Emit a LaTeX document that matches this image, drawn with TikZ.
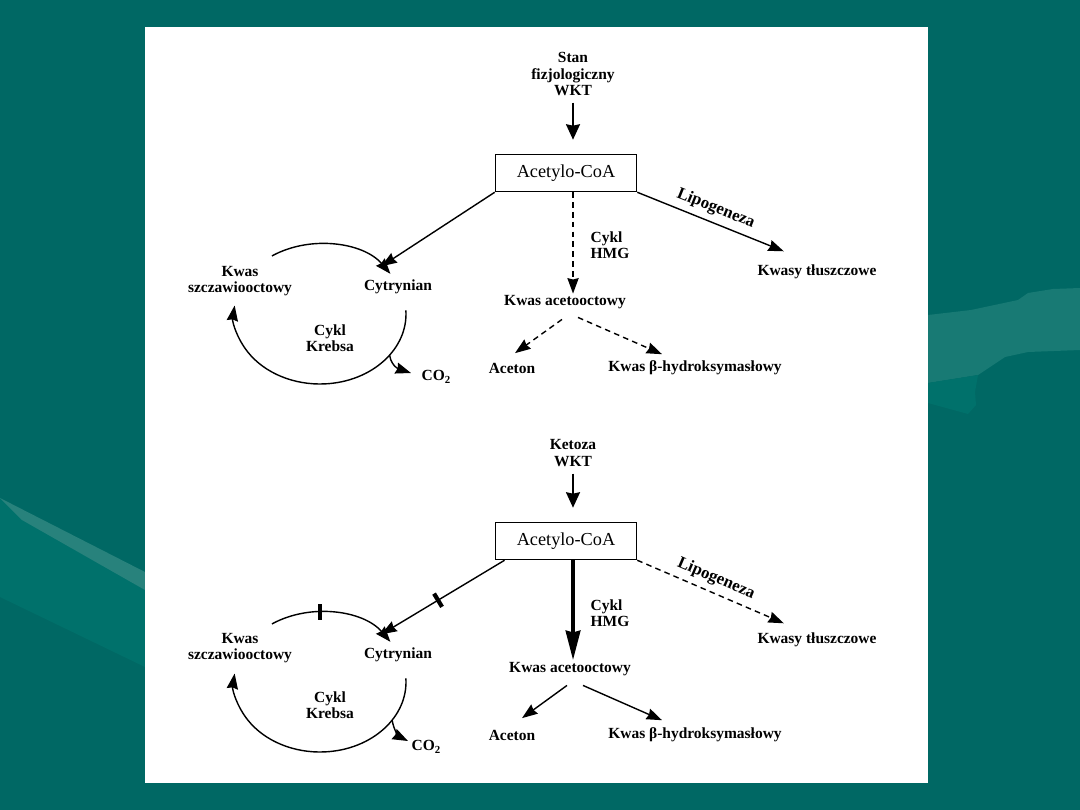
\documentclass[tikz,border=0pt]{standalone}
\usepackage{fontspec}
\setmainfont{Liberation Serif}
\usepackage{xcolor}
\usetikzlibrary{arrows.meta,positioning,calc}
\definecolor{slideteal}{RGB}{0,104,100}
\definecolor{slidemid}{RGB}{0,113,107}
\definecolor{slidelight}{RGB}{24,122,116}
\definecolor{slidestreak}{RGB}{40,130,124}

\begin{document}
\begin{tikzpicture}[x=0.025cm, y=-0.025cm,
    lbl/.style={font=\bfseries\fontsize{11}{11.5}\selectfont, align=center, inner sep=1pt},
    lipo/.style={font=\bfseries\fontsize{12}{13}\selectfont, inner sep=1pt, sloped, above=3pt},
    acbox/.style={draw, line width=1.2pt, minimum width=3.52cm, minimum height=0.92cm, font=\fontsize{13}{15}\selectfont},
    arr/.style={line width=1pt, -{Stealth[length=11pt,width=8pt,inset=1pt]}},
    bigarr/.style={line width=1pt, -{Stealth[length=11pt,width=10pt,inset=1pt]}},
    dsh/.style={dash pattern=on 4pt off 3pt},
    blockmark/.style={fill, minimum width=3pt, minimum height=11pt, inner sep=0pt}]
    \useasboundingbox (0,0) rectangle (1080,810);
    \fill[slideteal] (0,0) rectangle (1080,810);
    \fill[slidelight] (928,315) -- (971,310) -- (1018,300) -- (1028,293) -- (1053,289) -- (1080,288)
        -- (1080,350) -- (1028,352) -- (1005,357) -- (978,375) -- (928,383) -- cycle;
    \fill[slidemid] (928,383) -- (978,375) -- (975,392) -- (976,405) -- (968,414) -- (928,403) -- cycle;
    \fill[slidemid] (0,498) -- (145,590) -- (145,667) -- (0,597) -- cycle;
    \fill[slidestreak] (0,498) -- (145,572) -- (145,590) -- (22,520) -- cycle;
    \fill[white] (145,27) rectangle (928,783);

    % stan fizjologiczny
    \node[lbl] (src1) at (573,74) {Stan\\fizjologiczny\\WKT};
    \node[acbox] (acoa1) at (566,173) {Acetylo-CoA};
    \node[lbl, align=left] (hmg1) at (610,245) {Cykl\\HMG};
    \node[lbl] (kwasy1) at (817,272) {Kwasy tłuszczowe};
    \node[lbl] (aceto1) at (565,302) {Kwas acetooctowy};
    \node[lbl] (aceton1) at (512,368) {Aceton};
    \node[lbl] (hydr1) at (695,368) {Kwas β-hydroksymasłowy};
    \node[lbl] (szcz1) at (240,281) {Kwas\\szczawiooctowy};
    \node[lbl] (cyt1) at (398,287) {Cytrynian};
    \node[lbl] (krebs1) at (330,338) {Cykl\\Krebsa};
    \node[lbl, anchor=west] (co21) at (420,377) {CO\textsubscript{2}};
    \coordinate (k1) at (320,314);

    \draw[bigarr, shorten <=4pt, shorten >=10pt] (src1.south) -- (src1.south |- acoa1.north);
    \draw[arr] (acoa1.south west) -- ($(cyt1.north west)+(19,-12)$);
    \draw[arr, dsh] ([xshift=5pt]acoa1.south) -- ([xshift=5pt]acoa1.south |- aceto1.north);
    \draw[arr] (acoa1.south east) -- node[lipo] (lipo1) {Lipogeneza} ($(kwasy1.north west)+(28,-12)$);
    \draw[arr, dsh] ($(aceto1.south)+(-3,9)$) -- ($(aceton1.north)+(3,-8)$);
    \draw[arr, dsh] ($(aceto1.south)+(13,7)$) -- ($(hydr1.north)+(-33,-5)$);
    \draw[arr] ($(k1)+(236:86 and 70)$) arc[start angle=236, end angle=325, x radius=86, y radius=70];
    \draw[arr] ($(k1)+(-3:86 and 70)$) arc[start angle=-3, end angle=187, x radius=86, y radius=70];
    \draw[arr] ($(k1)+(36:86 and 70)$) .. controls +(2,13) and +(-9,-3) .. ($(co21.west)+(-9,-4)$);

    % ketoza
    \node[lbl] (src2) at (573,453) {Ketoza\\WKT};
    \node[acbox] (acoa2) at (566,541) {Acetylo-CoA};
    \node[lbl, align=left] (hmg2) at (610,613) {Cykl\\HMG};
    \node[lbl] (kwasy2) at (817,640) {Kwasy tłuszczowe};
    \node[lbl] (aceto2) at (570,669) {Kwas acetooctowy};
    \node[lbl] (aceton2) at (512,735) {Aceton};
    \node[lbl] (hydr2) at (695,735) {Kwas β-hydroksymasłowy};
    \node[lbl] (szcz2) at (240,648) {Kwas\\szczawiooctowy};
    \node[lbl] (cyt2) at (398,655) {Cytrynian};
    \node[lbl] (krebs2) at (330,705) {Cykl\\Krebsa};
    \node[lbl, anchor=west] (co22) at (410,747) {CO\textsubscript{2}};
    \coordinate (k2) at (320,682);

    \draw[bigarr, shorten <=4pt, shorten >=10pt] (src2.south) -- (src2.south |- acoa2.north);
    \draw[arr] ([xshift=7pt]acoa2.south west) -- node[blockmark, sloped, pos=0.54] (tick1) {} ($(cyt2.north west)+(19,-12)$);
    \draw[line width=3.5pt, -{Stealth[length=21pt,width=10pt,inset=1pt]}] ([xshift=5pt]acoa2.south) -- ([xshift=5pt]acoa2.south |- aceto2.north);
    \draw[arr, dsh] (acoa2.south east) -- node[lipo] (lipo2) {Lipogeneza} ($(kwasy2.north west)+(28,-8)$);
    \draw[arr] ($(aceto2.south)+(-3,8)$) -- ($(aceton2.north)+(10,-10)$);
    \draw[arr] ($(aceto2.south)+(13,8)$) -- ($(hydr2.north)+(-33,-6)$);
    \draw[arr] ($(k2)+(236:86 and 70)$) arc[start angle=236, end angle=325, x radius=86, y radius=70];
    \draw[arr] ($(k2)+(-3:86 and 70)$) arc[start angle=-3, end angle=187, x radius=86, y radius=70];
    \node[blockmark] (tick2) at ($(k2)+(270:86 and 70)$) {};
    \draw[arr] ($(k2)+(33:86 and 70)$) .. controls +(2,12) and +(-8,-4) .. ($(co22.west)+(-2,-6)$);
\end{tikzpicture}
\end{document}
